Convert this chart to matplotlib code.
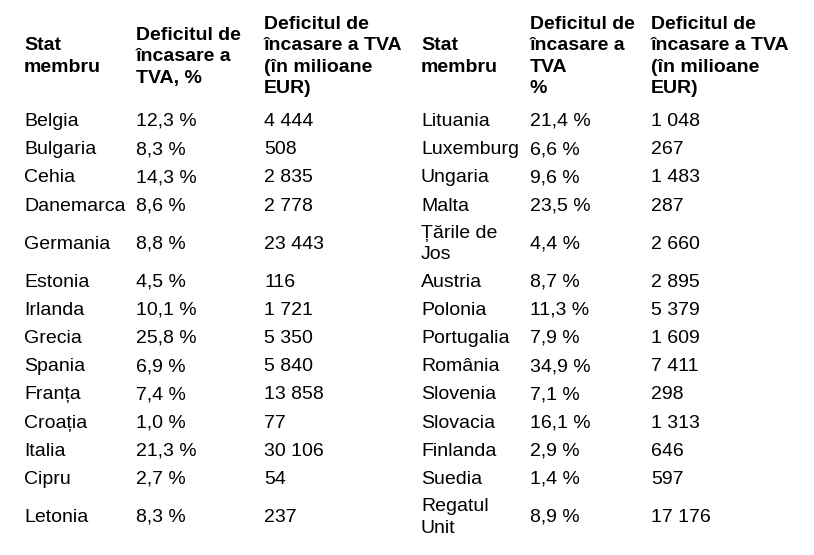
import matplotlib
matplotlib.use("Agg")
import matplotlib.pyplot as plt

plt.rcParams['font.family'] = ['Liberation Sans', 'DejaVu Sans']

# table data
statesLeft = ["Belgia", "Bulgaria", "Cehia", "Danemarca", "Germania", "Estonia", "Irlanda",
              "Grecia", "Spania", "Franța", "Croația", "Italia", "Cipru", "Letonia"]
pctLeft = ["12,3 %", "8,3 %", "14,3 %", "8,6 %", "8,8 %", "4,5 %", "10,1 %",
           "25,8 %", "6,9 %", "7,4 %", "1,0 %", "21,3 %", "2,7 %", "8,3 %"]
eurLeft = ["4 444", "508", "2 835", "2 778", "23 443", "116", "1 721",
           "5 350", "5 840", "13 858", "77", "30 106", "54", "237"]

statesRight = ["Lituania", "Luxemburg", "Ungaria", "Malta", "Țările de\nJos", "Austria", "Polonia",
               "Portugalia", "România", "Slovenia", "Slovacia", "Finlanda", "Suedia", "Regatul\nUnit"]
pctRight = ["21,4 %", "6,6 %", "9,6 %", "23,5 %", "4,4 %", "8,7 %", "11,3 %",
            "7,9 %", "34,9 %", "7,1 %", "16,1 %", "2,9 %", "1,4 %", "8,9 %"]
eurRight = ["1 048", "267", "1 483", "287", "2 660", "2 895", "5 379",
            "1 609", "7 411", "298", "1 313", "646", "597", "17 176"]

headersLeft = ["Stat\nmembru", "Deficitul de\nîncasare a\nTVA, %", "Deficitul de\nîncasare a TVA\n(în milioane\nEUR)"]
headersRight = ["Stat\nmembru", "Deficitul de\nîncasare a\nTVA\n%", "Deficitul de\nîncasare a TVA\n(în milioane\nEUR)"]

W, H = 814, 555
fig = plt.figure(figsize=(W / 100, H / 100), dpi=100)
fontSize = 14
lineStep = 21.5


def put(x, yMid, s, bold=False):
    # yMid is the middle baseline of the cell, every line placed on its own baseline
    lines = s.split("\n")
    first = yMid - (len(lines) - 1) * lineStep / 2
    for k, ln in enumerate(lines):
        y = first + k * lineStep
        fig.text(x / W, 1 - y / H, ln, fontsize=fontSize, ha='left', va='baseline',
                 fontweight='bold' if bold else 'normal', color='black')


colsLeft = [24, 136, 264]
colsRight = [421, 530, 651]
headerY = 61

for x, h in zip(colsLeft, headersLeft):
    put(x, headerY, h, bold=True)
for x, h in zip(colsRight, headersRight):
    put(x, headerY, h, bold=True)

# row baselines grow with the number of wrapped lines
baseH, extraH = 28.2, 19.6
heights = [baseH + extraH * max(a.count("\n"), b.count("\n")) for a, b in zip(statesLeft, statesRight)]
y = 126
prevH = None
for i in range(len(statesLeft)):
    if prevH is not None:
        y += (prevH + heights[i]) / 2
    prevH = heights[i]
    for x, s in zip(colsLeft, [statesLeft[i], pctLeft[i], eurLeft[i]]):
        put(x, y, s)
    for x, s in zip(colsRight, [statesRight[i], pctRight[i], eurRight[i]]):
        put(x, y, s)

fig.savefig("out.png", dpi=100, facecolor='white')
